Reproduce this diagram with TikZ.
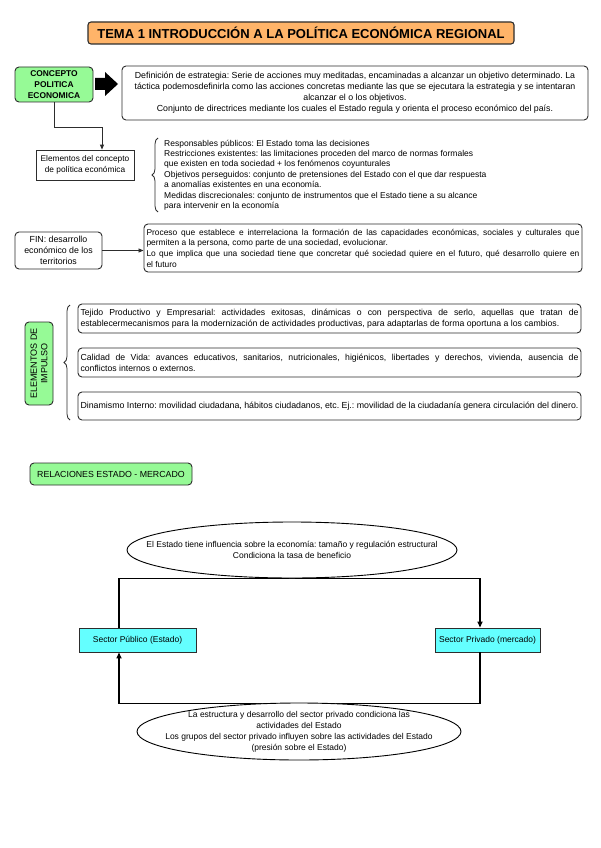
\documentclass[tikz,border=0pt]{standalone}
\usepackage{fontspec}
\setmainfont{Liberation Sans}
\usetikzlibrary{decorations.pathreplacing,arrows.meta,shapes.geometric}
\definecolor{orangefill}{RGB}{255,180,105}
\definecolor{greenfill}{RGB}{150,250,150}
\definecolor{cyanfill}{RGB}{100,255,255}
\definecolor{edgecol}{RGB}{45,45,45}
\newcommand\myfs[2]{\fontsize{#1}{#2}\selectfont}
\frenchspacing
\begin{document}
\begin{tikzpicture}[x=1pt,y=-1pt,
  rbox/.style={draw=edgecol, line width=0.9pt, rounded corners=4pt, inner sep=0pt, align=center},
  gbox/.style={rbox, fill=greenfill},
  jbox/.style={rbox, align=justify, inner xsep=2.5pt},
  sbox/.style={draw=edgecol, fill=cyanfill, line width=0.9pt, minimum height=24pt, inner sep=0pt, font=\myfs{8.5}{10}},
  conn/.style={draw=edgecol, line width=0.8pt, -{Triangle[length=5pt,width=4pt]}},
  loopline/.style={draw=black, line width=1.6pt, -{Triangle[length=6pt,width=5pt]}},
  brc/.style={draw=edgecol, line width=0.8pt, decorate, decoration={brace, amplitude=6pt}},
  ell/.style={ellipse, draw=black, line width=0.9pt, fill=white, inner sep=0pt},
  elltext/.style={align=center, inner sep=0pt, font=\myfs{8.5}{11}},
]
\fill[white] (0,0) rectangle (600,848);
\useasboundingbox (0,0) rectangle (600,848);

\node[rbox, fill=orangefill, line width=1.1pt, rounded corners=3pt, minimum width=426pt, minimum height=22pt, font=\bfseries\myfs{13}{14}] (title) at (301,33) {TEMA 1 INTRODUCCIÓN A LA POLÍTICA ECONÓMICA REGIONAL};

\node[gbox, minimum width=78pt, minimum height=35pt, font=\bfseries\myfs{8.4}{11}] (concepto) at (54,84.5) {CONCEPTO\\POLITICA\\ECONOMICA};

\fill[black] (95,78) -- (105,78) -- (105,72) -- (118,84) -- (105,96) -- (105,90) -- (95,90) -- cycle;

\node[rbox, minimum width=466pt, minimum height=54pt, font=\myfs{8.8}{11}] (defin) at (355,93) {Definición de estrategia: Serie de acciones muy meditadas, encaminadas a alcanzar un objetivo determinado. La\\táctica podemosdefinirla como las acciones concretas mediante las que se ejecutara la estrategia y se intentaran\\alcanzar el o los objetivos.\\Conjunto de directrices mediante los cuales el Estado regula y orienta el proceso económico del país.};

\node[draw=edgecol, line width=0.8pt, minimum width=98pt, minimum height=30pt, inner sep=0pt, align=center, font=\myfs{8.3}{10.5}] (elem) at (85,165) {Elementos del concepto\\de política económica};

\draw[conn] (concepto.south) -- ++(0,25) -| ([xshift=17pt]elem.north);

\draw[brc] (158,212) -- (158,138);
\node[anchor=west, align=left, inner sep=0pt, font=\myfs{8.5}{10.4}] (resp) at (164,175) {Responsables públicos: El Estado toma las decisiones\\Restricciones existentes: las limitaciones proceden del marco de normas formales\\que existen en toda sociedad + los fenómenos coyunturales\\Objetivos perseguidos: conjunto de pretensiones del Estado con el que dar respuesta\\a anomalías existentes en una economía.\\Medidas discrecionales: conjunto de instrumentos que el Estado tiene a su alcance\\para intervenir en la economía};

\node[rbox, minimum width=87pt, minimum height=37pt, font=\myfs{8.8}{11}] (fin) at (58.5,250.5) {FIN: desarrollo\\económico de los\\territorios};

\node[jbox, text width=433pt, minimum height=48pt, font=\myfs{8.4}{10.7}] (proceso) at (363,248) {\hyphenpenalty=10000 Proceso que establece e interrelaciona la formación de las capacidades económicas, sociales y culturales que\linebreak permiten a la persona, como parte de una sociedad, evolucionar.\\Lo que implica que una sociedad tiene que concretar qué sociedad quiere en el futuro, qué desarrollo quiere en\linebreak el futuro};

\draw[conn] (fin.east) -- (fin.east -| proceso.west);

\node[gbox, rotate=90, minimum width=83pt, minimum height=28pt, font=\myfs{9}{10.5}] (impulso) at (39,363.5) {ELEMENTOS DE\\IMPULSO};

\draw[brc] (70,420) -- (70,305);

\node[jbox, text width=498pt, minimum height=29pt, font=\myfs{8.7}{10.8}] (tejido) at (329.5,318.5) {\hyphenpenalty=10000 Tejido Productivo y Empresarial: actividades exitosas, dinámicas o con perspectiva de serlo, aquellas que tratan de\linebreak establecermecanismos para la modernización de actividades productivas, para adaptarlas de forma oportuna a los cambios.};

\node[jbox, text width=498pt, minimum height=29pt, font=\myfs{8.7}{10.8}] (calidad) at (329.5,362.5) {\hyphenpenalty=10000 Calidad de Vida: avances educativos, sanitarios, nutricionales, higiénicos, libertades y derechos, vivienda, ausencia de\linebreak conflictos internos o externos.};

\node[jbox, text width=498pt, minimum height=28pt, font=\myfs{8.8}{10.8}] (dinam) at (329.5,406) {\hyphenpenalty=10000 Dinamismo Interno: movilidad ciudadana, hábitos ciudadanos, etc. Ej.: movilidad de la ciudadanía genera circulación del dinero.};

\node[gbox, minimum width=162pt, minimum height=22pt, font=\myfs{8.8}{10}] (rel) at (111,474) {RELACIONES ESTADO - MERCADO};

\node[sbox, minimum width=117pt] (pub) at (137.5,640) {Sector Público (Estado)};
\node[sbox, minimum width=105pt] (priv) at (487.5,640) {Sector Privado (mercado)};

\draw[loopline] ([xshift=-18.5pt]pub.north) -- ++(0,-49) -| ([xshift=-7.5pt]priv.north);
\draw[loopline] ([xshift=-7.5pt]priv.south) -- ++(0,51) -| ([xshift=-18.5pt]pub.south);

\node[ell, minimum width=330pt, minimum height=56pt] (topell) at (292,550) {};
\node[elltext] (toptext) at (topell.center) {El Estado tiene influencia sobre la economía: tamaño y regulación estructural\\Condiciona la tasa de beneficio};

\node[ell, minimum width=324pt, minimum height=57pt] (botell) at (299,731.5) {};
\node[elltext] (bottext) at (botell.center) {La estructura y desarrollo del sector privado condiciona las\\actividades del Estado\\Los grupos del sector privado influyen sobre las actividades del Estado\\(presión sobre el Estado)};
\end{tikzpicture}
\end{document}
